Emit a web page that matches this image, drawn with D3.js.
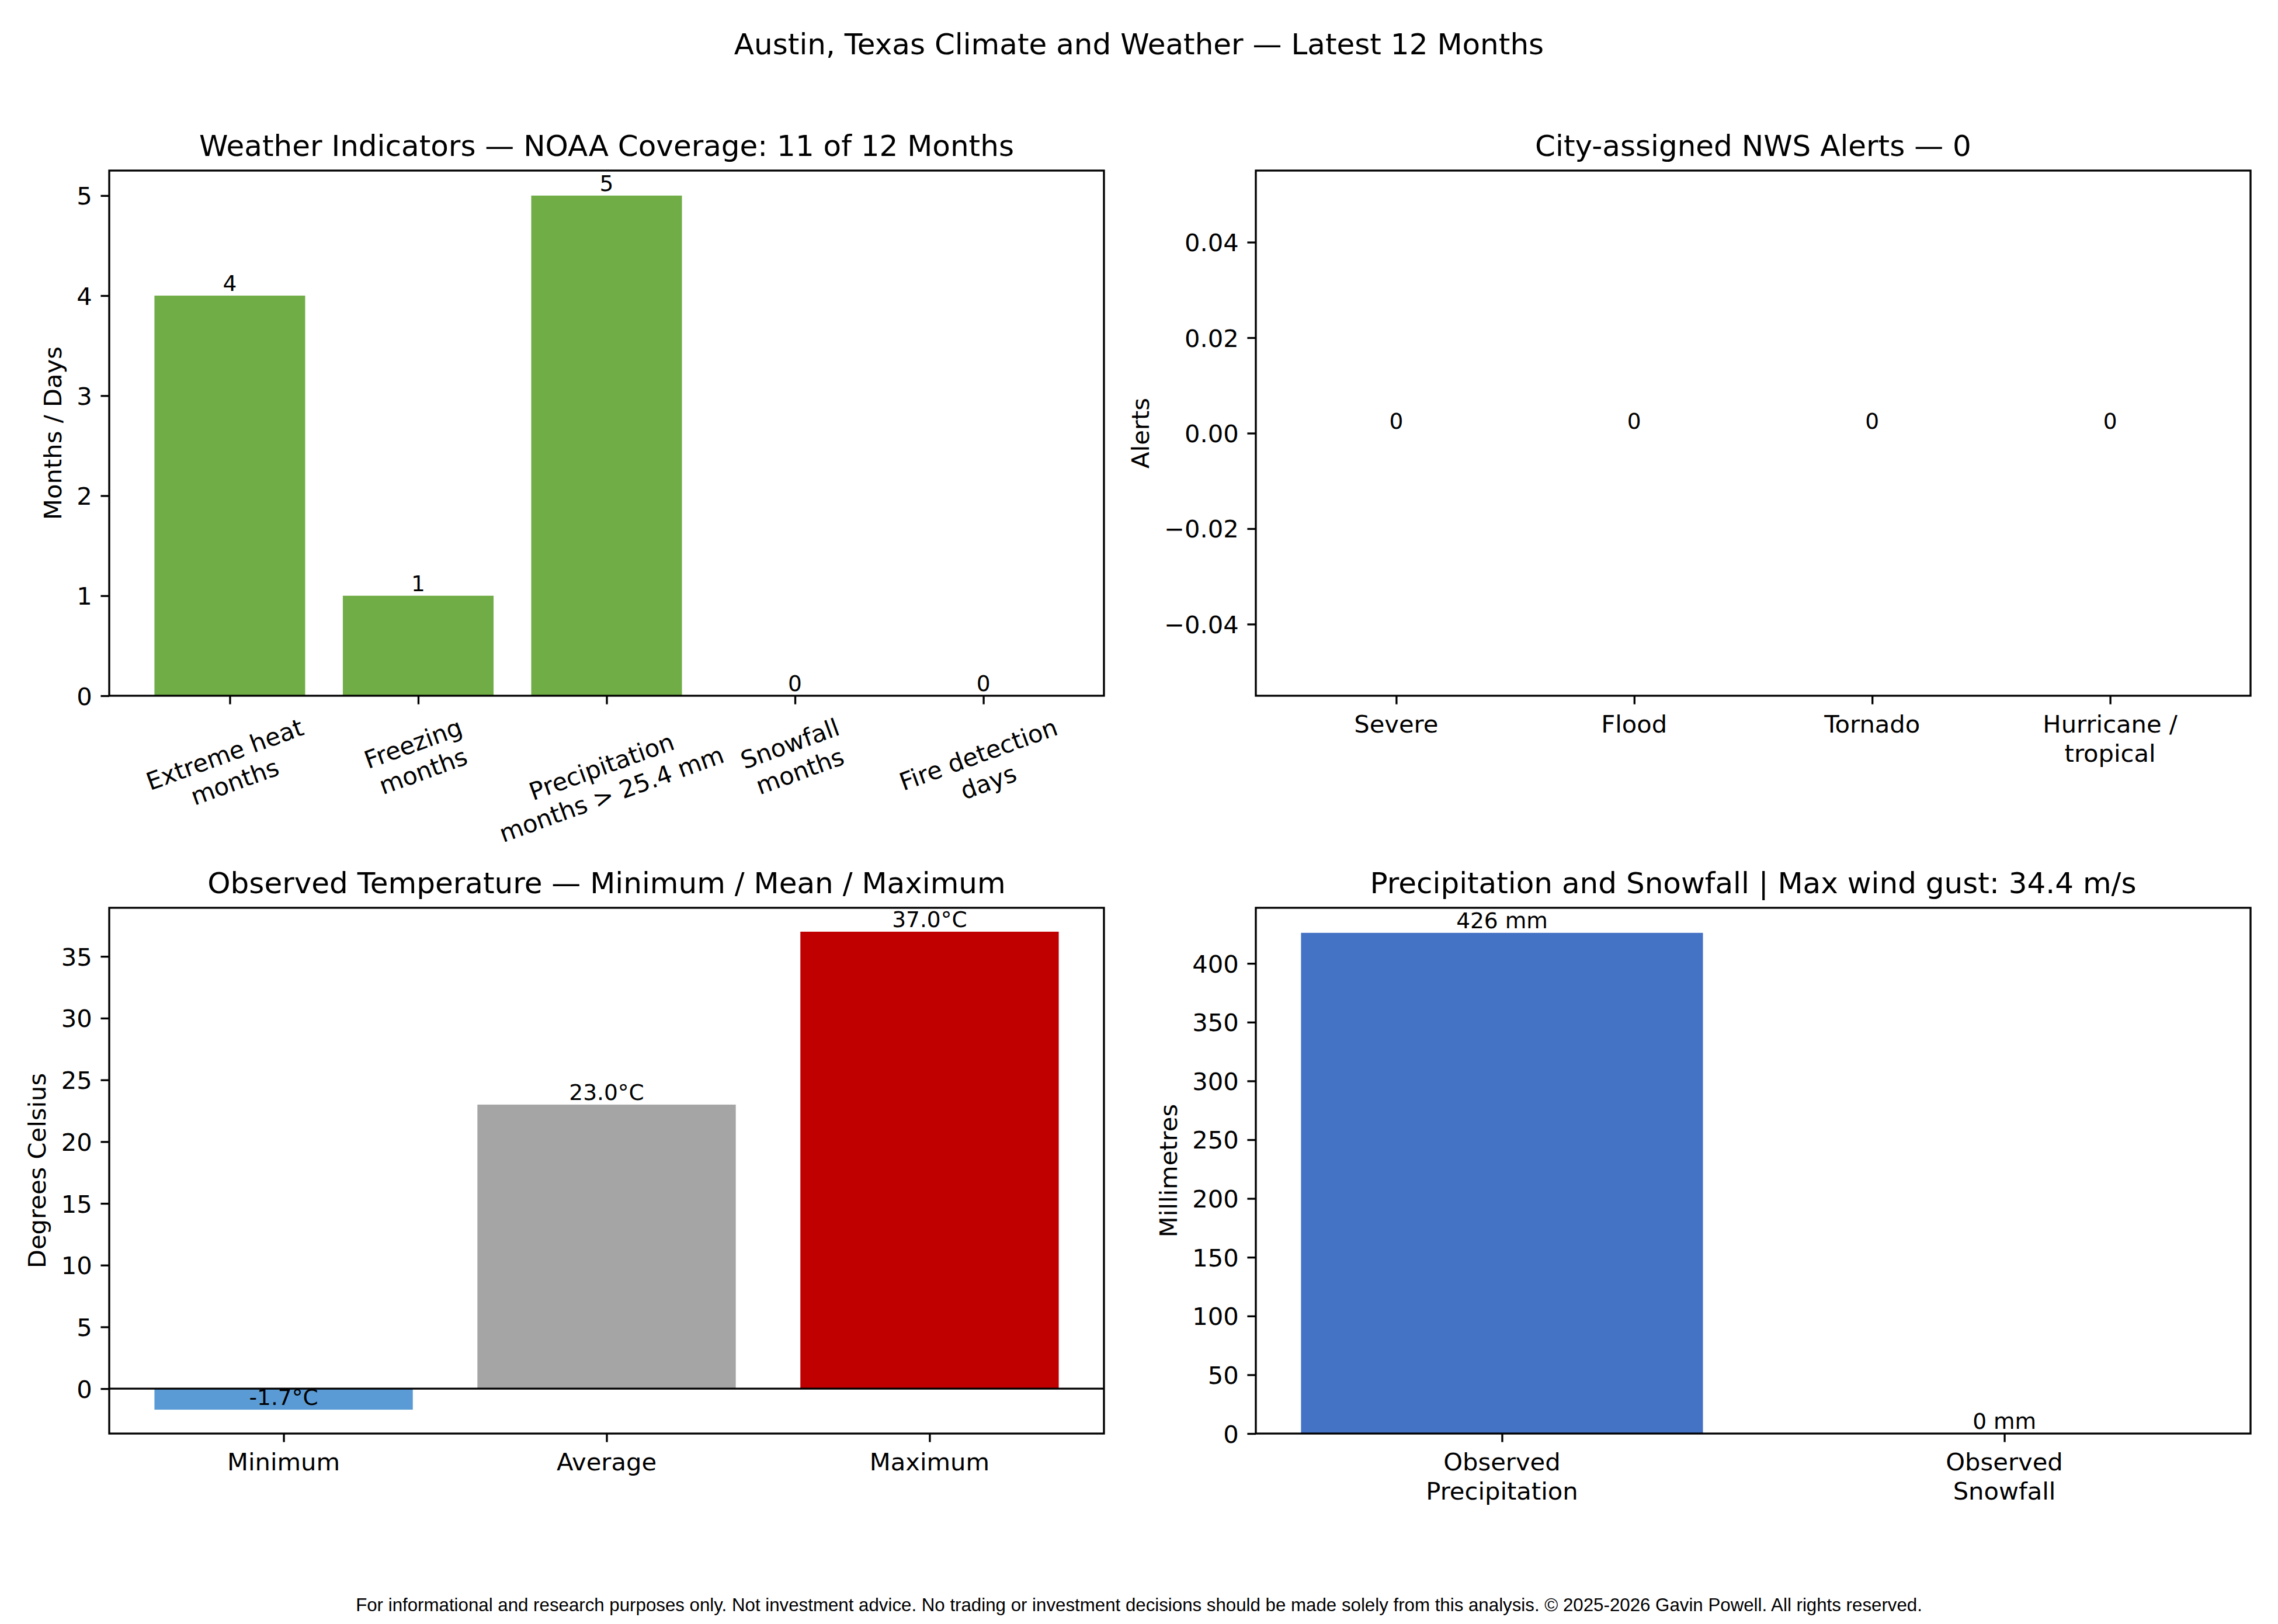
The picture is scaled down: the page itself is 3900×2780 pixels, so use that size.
<!DOCTYPE html>
<html>
<head>
<meta charset="utf-8">
<script src="https://cdn.jsdelivr.net/npm/d3@7"></script>
<style>
  body { margin: 0; background: #fff; }
  svg text { font-family: "DejaVu Sans", sans-serif; fill: #000; }
</style>
</head>
<body>
<svg id="fig" width="3900" height="2780"></svg>
<script>
// ---- data ----
var indicatorCats = ["Extreme heat\nmonths", "Freezing\nmonths", "Precipitation\nmonths > 25.4 mm", "Snowfall\nmonths", "Fire detection\ndays"];
var indicatorVals = [4, 1, 5, 0, 0];
var indicatorTicks = [0, 1, 2, 3, 4, 5];

var alertCats = ["Severe", "Flood", "Tornado", "Hurricane /\ntropical"];
var alertVals = [0, 0, 0, 0];
var alertTicks = [-0.04, -0.02, 0, 0.02, 0.04];

var tempCats = ["Minimum", "Average", "Maximum"];
var tempVals = [-1.7, 23.0, 37.0];
var tempColors = ["#5B9BD5", "#A5A5A5", "#C00000"];
var tempTicks = [0, 5, 10, 15, 20, 25, 30, 35];

var precipCats = ["Observed\nPrecipitation", "Observed\nSnowfall"];
var precipVals = [426, 0];
var precipTicks = [0, 50, 100, 150, 200, 250, 300, 350, 400];

// ---- figure constants (300 dpi, matplotlib look) ----
W = 3900;
H = 2780;
PT = 300 / 72;
tickFs = 10 * PT;			// tick labels
titleFs = 12 * PT;
barFs = 9 * PT;
tickLen = 3.5 * PT;
tickPad = 3.5 * PT;
lw = 0.8 * PT;

var svg = d3.select("#fig");
svg.append("rect").attr("width", W).attr("height", H).attr("fill", "#fff");

// x scale like matplotlib bar(): 5% margins around the bar extents
function catScale(n, x0, x1) {
	var lo = -0.4, hi = n - 1 + 0.4, m = 0.05 * (hi - lo);
	return d3.scaleLinear().domain([lo - m, hi + m]).range([x0, x1]);
}

function panel(box, cats, vals, colors, yDomain, yTicks, yFmt, labels, opts) {
	var g = svg.append("g");
	var x = catScale(cats.length, box.x0, box.x1);
	var y = d3.scaleLinear().domain(yDomain).range([box.y1, box.y0]);
	var bw = x(0.4) - x(0);

	// bars
	g.selectAll(".bar").data(vals).enter()
		.append("rect")
		.attr("x", function(d, i) { return x(i) - bw; })
		.attr("width", 2 * bw)
		.attr("y", function(d) { return y(Math.max(0, d)); })
		.attr("height", function(d) { return Math.abs(y(d) - y(0)); })
		.attr("fill", function(d, i) { return colors[i]; });

	if (opts.zeroLine) {
		g.append("line")
			.attr("x1", box.x0).attr("x2", box.x1)
			.attr("y1", y(0)).attr("y2", y(0))
			.attr("stroke", "#000").attr("stroke-width", lw);
	}

	// value labels, va=bottom at the bar end
	g.selectAll(".val").data(vals).enter()
		.append("text")
		.attr("x", function(d, i) { return x(i); })
		.attr("y", function(d) { return y(d) - 8; })
		.attr("text-anchor", "middle")
		.attr("font-size", barFs)
		.text(function(d, i) { return labels[i]; });

	// spines
	g.append("rect")
		.attr("x", box.x0).attr("y", box.y0)
		.attr("width", box.x1 - box.x0).attr("height", box.y1 - box.y0)
		.attr("fill", "none").attr("stroke", "#000").attr("stroke-width", lw);

	// y axis
	var yAxis = d3.axisLeft(y).tickValues(yTicks).tickFormat(yFmt)
		.tickSize(tickLen).tickPadding(tickPad);
	var yG = g.append("g").attr("transform", "translate(" + box.x0 + ",0)").call(yAxis);
	yG.select(".domain").remove();
	yG.selectAll("line").attr("stroke", "#000").attr("stroke-width", lw);
	yG.selectAll("text").attr("font-size", tickFs).attr("font-family", null)
		.attr("fill", "#000").attr("dy", "0.36em");

	// x axis ticks
	var xAxis = d3.axisBottom(x).tickValues(d3.range(cats.length)).tickFormat("")
		.tickSize(tickLen);
	var xG = g.append("g").attr("transform", "translate(0," + box.y1 + ")").call(xAxis);
	xG.select(".domain").remove();
	xG.selectAll("line").attr("stroke", "#000").attr("stroke-width", lw);

	// x tick labels
	cats.forEach(function(c, i) {
		var lines = c.split("\n");
		if (opts.rotate) {
			var outer = g.append("g");
			var inner = outer.append("g").attr("transform", "rotate(" + (-opts.rotate) + ")");
			var t = inner.append("text").attr("text-anchor", "middle").attr("font-size", tickFs);
			lines.forEach(function(l, k) {
				t.append("tspan").attr("x", 0).attr("y", k * 1.2 * tickFs).text(l);
			});
			var bb = outer.node().getBBox();
			outer.attr("transform", "translate(" + (x(i) - (bb.x + bb.width / 2)) + "," +
				(box.y1 + tickLen + tickPad - bb.y) + ")");
		} else {
			var t2 = g.append("text").attr("text-anchor", "middle").attr("font-size", tickFs);
			lines.forEach(function(l, k) {
				t2.append("tspan").attr("x", x(i))
					.attr("y", box.y1 + 63 + k * 1.2 * tickFs).text(l);
			});
		}
	});

	// y label, placed left of the widest tick label
	var tb = yG.node().getBBox();
	var lx = box.x0 + tb.x - 4 * PT - 0.236 * tickFs;
	var ly = (box.y0 + box.y1) / 2;
	g.append("text")
		.attr("transform", "translate(" + lx + "," + ly + ") rotate(-90)")
		.attr("text-anchor", "middle")
		.attr("font-size", tickFs)
		.text(opts.ylabel);

	// title
	g.append("text")
		.attr("x", (box.x0 + box.x1) / 2)
		.attr("y", box.y0 - 6 * PT)
		.attr("text-anchor", "middle")
		.attr("font-size", titleFs)
		.text(opts.title);
}

var TL = {x0: 187, x1: 1890, y0: 292, y1: 1191};
var TR = {x0: 2150, x1: 3853, y0: 292, y1: 1191};
var BL = {x0: 187, x1: 1890, y0: 1554, y1: 2454};
var BR = {x0: 2150, x1: 3853, y0: 1554, y1: 2454};

function padDomain(vals) {
	var lo = Math.min(0, d3.min(vals)), hi = Math.max(0, d3.max(vals)), m = 0.05 * (hi - lo);
	return [lo < 0 ? lo - m : 0, hi + m];
}

panel(TL, indicatorCats, indicatorVals, indicatorVals.map(function() { return "#70AD47"; }),
	padDomain(indicatorVals), indicatorTicks, d3.format("d"),
	indicatorVals.map(String),
	{title: "Weather Indicators \u2014 NOAA Coverage: 11 of 12 Months", ylabel: "Months / Days", rotate: 20});

panel(TR, alertCats, alertVals, alertVals.map(function() { return "#4472C4"; }),
	[-0.055, 0.055], alertTicks, d3.format(".2f"),
	alertVals.map(String),
	{title: "City-assigned NWS Alerts \u2014 0", ylabel: "Alerts"});

panel(BL, tempCats, tempVals, tempColors,
	padDomain(tempVals), tempTicks, d3.format("d"),
	tempVals.map(function(v) { return v.toFixed(1) + "\u00b0C"; }),
	{title: "Observed Temperature \u2014 Minimum / Mean / Maximum", ylabel: "Degrees Celsius", zeroLine: true});

panel(BR, precipCats, precipVals, precipVals.map(function() { return "#4472C4"; }),
	padDomain(precipVals), precipTicks, d3.format("d"),
	precipVals.map(function(v) { return v + " mm"; }),
	{title: "Precipitation and Snowfall | Max wind gust: 34.4 m/s", ylabel: "Millimetres"});

// suptitle + footer
svg.append("text")
	.attr("x", W / 2).attr("y", 93)
	.attr("text-anchor", "middle")
	.attr("font-size", titleFs)
	.text("Austin, Texas Climate and Weather \u2014 Latest 12 Months");

svg.append("text")
	.attr("x", W / 2).attr("y", 2758)
	.attr("text-anchor", "middle")
	.attr("font-size", 7.5 * PT)
	.style("font-family", "'Liberation Sans', Arial, sans-serif")
	.text("For informational and research purposes only. Not investment advice. No trading or investment decisions should be made solely from this analysis. \u00a9 2025-2026 Gavin Powell. All rights reserved.");
</script>
</body>
</html>
